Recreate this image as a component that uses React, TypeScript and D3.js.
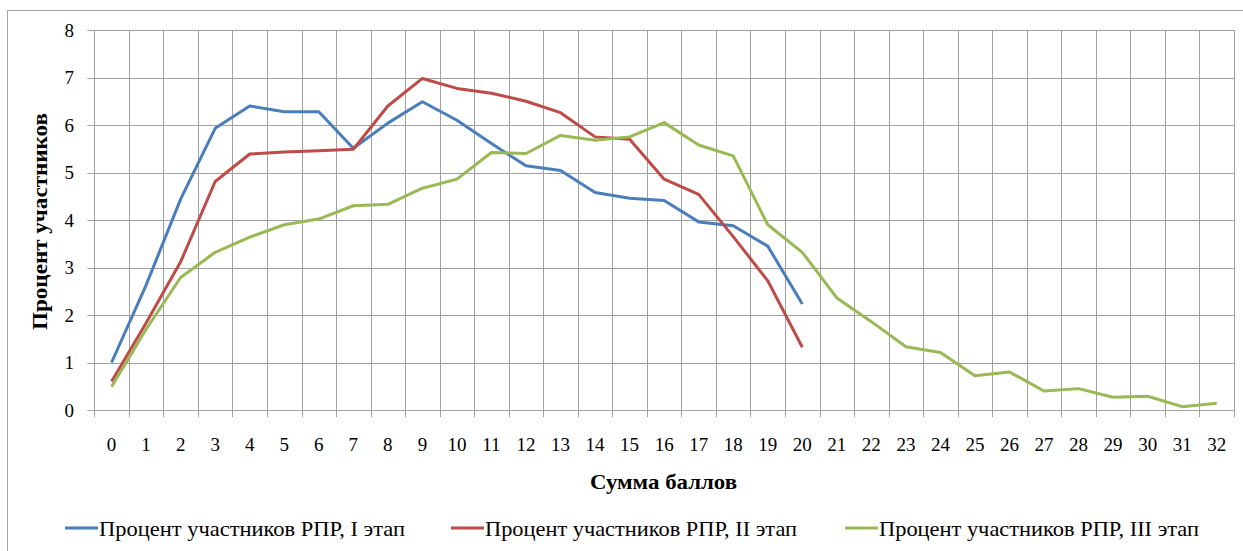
import React, { useEffect, useRef } from "react";
import * as d3 from "d3";

const categories = d3.range(0, 33).map(String);
const stage1 = [1.0, 2.63, 4.44, 5.93, 6.4, 6.28, 6.28, 5.51, 6.04, 6.49, 6.1, 5.61, 5.14, 5.04, 4.58, 4.46, 4.41, 3.96, 3.88, 3.45, 2.23];
const stage2 = [0.6, 1.83, 3.12, 4.81, 5.39, 5.43, 5.46, 5.49, 6.4, 6.98, 6.77, 6.67, 6.5, 6.26, 5.75, 5.7, 4.86, 4.54, 3.65, 2.72, 1.32];
const stage3 = [0.49, 1.7, 2.79, 3.32, 3.64, 3.9, 4.02, 4.3, 4.33, 4.67, 4.86, 5.42, 5.4, 5.78, 5.68, 5.75, 6.05, 5.58, 5.35, 3.9, 3.32, 2.36, 1.86, 1.33, 1.21, 0.72, 0.8, 0.4, 0.45, 0.27, 0.29, 0.07, 0.14];
const yTicks = [0, 1, 2, 3, 4, 5, 6, 7, 8];

const seriesNames = [
  "Процент участников РПР, I этап",
  "Процент участников РПР, II этап",
  "Процент участников РПР, III этап",
];
const colors = ["#4a7ebb", "#be4b48", "#98b954"];

export default function App() {
  const ref = useRef<SVGSVGElement>(null);

  useEffect(() => {
    const svg = d3.select(ref.current);
    svg.selectAll("*").remove();
    const font = "Liberation Serif";
    const grid = "#a0a0a0";

    svg.append("rect")
      .attr("x", 7.5).attr("y", 10.5)
      .attr("width", 1260).attr("height", 600)
      .attr("fill", "white").attr("stroke", "#a6a6a6");

    const left = 94.3, right = 1234, top = 30, bottom = 410;
    const x = d3.scaleBand().domain(categories).range([left, right]);
    const y = d3.scaleLinear().domain([0, 8]).range([bottom, top]);

    const g = svg.append("g");

    // horizontal gridlines + y ticks
    yTicks.forEach((t) => {
      g.append("line")
        .attr("x1", left - 7).attr("x2", right)
        .attr("y1", Math.round(y(t)) + 0.5).attr("y2", Math.round(y(t)) + 0.5)
        .attr("stroke", grid);
      g.append("text")
        .attr("x", 74).attr("y", y(t) + 6.5)
        .attr("text-anchor", "end")
        .style("font-family", font).attr("font-size", 19)
        .text(t);
    });

    // vertical gridlines at band boundaries
    const bounds = categories.map((c) => x(c)!).concat([right]);
    bounds.forEach((b) => {
      g.append("line")
        .attr("x1", Math.round(b) + 0.5).attr("x2", Math.round(b) + 0.5)
        .attr("y1", top).attr("y2", bottom + 7)
        .attr("stroke", grid);
    });

    categories.forEach((c) => {
      g.append("text")
        .attr("x", x(c)! + x.bandwidth() / 2).attr("y", 451)
        .attr("text-anchor", "middle")
        .style("font-family", font).attr("font-size", 19)
        .text(c);
    });

    const line = d3.line<number>()
      .x((_, i) => x(categories[i])! + x.bandwidth() / 2)
      .y((d) => y(d));

    [stage1, stage2, stage3].forEach((s, i) => {
      g.append("path")
        .attr("d", line(s))
        .attr("fill", "none")
        .attr("stroke", colors[i])
        .attr("stroke-width", 3)
        .attr("stroke-linejoin", "round");
    });

    svg.append("text")
      .attr("x", 590).attr("y", 489)
      .style("font-family", font).attr("font-size", 21).attr("font-weight", "bold")
      .attr("textLength", 147).attr("lengthAdjust", "spacingAndGlyphs")
      .text("Сумма баллов");

    svg.append("text")
      .attr("transform", `translate(47,330) rotate(-90)`)
      .style("font-family", font).attr("font-size", 21).attr("font-weight", "bold")
      .attr("textLength", 217).attr("lengthAdjust", "spacingAndGlyphs")
      .text("Процент участников");

    const legendX = [65, 451, 845];
    const legendW = [306, 312, 320];
    seriesNames.forEach((name, i) => {
      svg.append("line")
        .attr("x1", legendX[i]).attr("x2", legendX[i] + 33)
        .attr("y1", 528).attr("y2", 528)
        .attr("stroke", colors[i]).attr("stroke-width", 3);
      svg.append("text")
        .attr("x", legendX[i] + 34).attr("y", 536)
        .style("font-family", font).attr("font-size", 22)
        .attr("textLength", legendW[i]).attr("lengthAdjust", "spacingAndGlyphs")
        .text(name);
    });
  }, []);

  return (
    <svg
      ref={ref}
      width={1243}
      height={551}
      fontFamily="Liberation Serif"
      style={{ position: "absolute", left: 0, top: 0 }}
    />
  );
}
